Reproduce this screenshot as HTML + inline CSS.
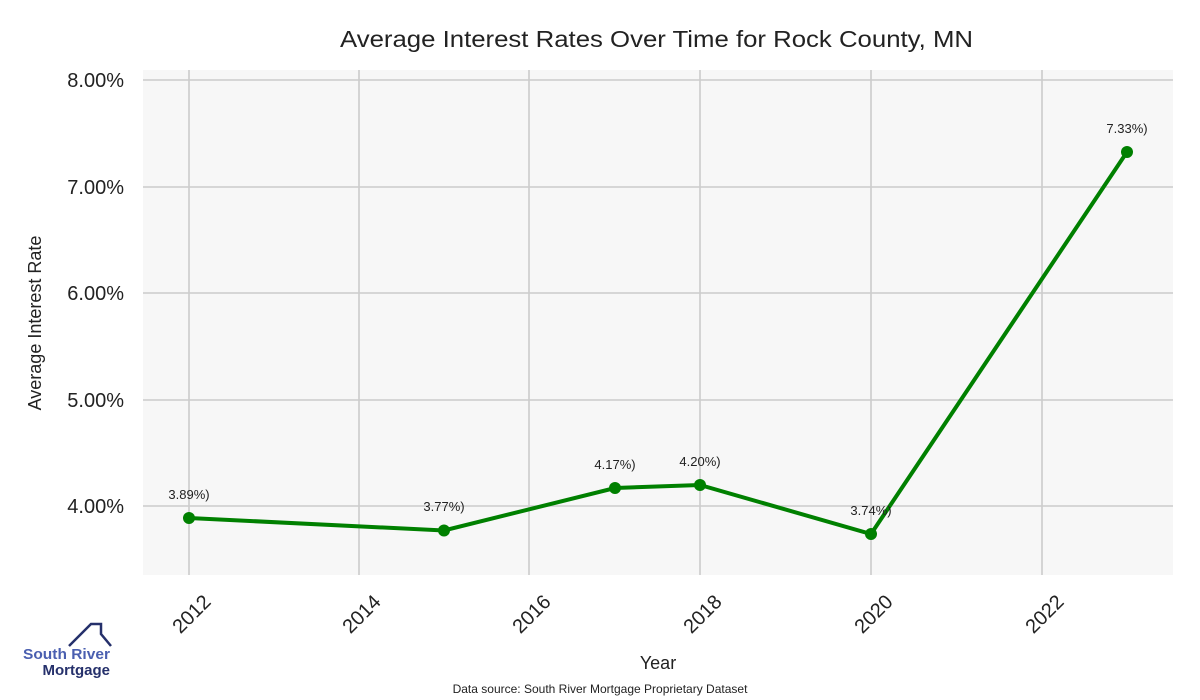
<!DOCTYPE html>
<html><head><meta charset="utf-8"><style>body{margin:0;background:#fff}svg{display:block}text{font-family:"Liberation Sans",sans-serif}</style></head><body>
<svg width="1200" height="700" viewBox="0 0 1200 700">
<rect x="143" y="70" width="1030" height="505" fill="#f7f7f7"/>
<g stroke="#cccccc" stroke-width="1.6">
<line x1="143" x2="1173" y1="80" y2="80"/><line x1="143" x2="1173" y1="187" y2="187"/><line x1="143" x2="1173" y1="293" y2="293"/><line x1="143" x2="1173" y1="400" y2="400"/><line x1="143" x2="1173" y1="506" y2="506"/>
<line x1="189" x2="189" y1="70" y2="575"/><line x1="359" x2="359" y1="70" y2="575"/><line x1="529" x2="529" y1="70" y2="575"/><line x1="700" x2="700" y1="70" y2="575"/><line x1="871" x2="871" y1="70" y2="575"/><line x1="1042" x2="1042" y1="70" y2="575"/>
</g>
<text x="340" y="47" font-size="23" fill="#222" textLength="633" lengthAdjust="spacingAndGlyphs">Average Interest Rates Over Time for Rock County, MN</text>
<g font-size="20" fill="#222" text-anchor="end">
<text x="124" y="87">8.00%</text><text x="124" y="194">7.00%</text><text x="124" y="300">6.00%</text><text x="124" y="407">5.00%</text><text x="124" y="513">4.00%</text></g>
<text transform="translate(41,323) rotate(-90)" font-size="18" fill="#222" text-anchor="middle">Average Interest Rate</text>
<g font-size="20" fill="#222" text-anchor="end">
<text transform="translate(212,603) rotate(-45)">2012</text><text transform="translate(382,603) rotate(-45)">2014</text><text transform="translate(552,603) rotate(-45)">2016</text><text transform="translate(723,603) rotate(-45)">2018</text><text transform="translate(894,603) rotate(-45)">2020</text><text transform="translate(1065,603) rotate(-45)">2022</text></g>
<text x="658" y="669" font-size="18" fill="#222" text-anchor="middle">Year</text>
<text x="600" y="693" font-size="12" fill="#222" text-anchor="middle">Data source: South River Mortgage Proprietary Dataset</text>
<polyline points="189,518 444,530.5 615,488 700,485 871,534 1127,152" fill="none" stroke="#008000" stroke-width="4"/>
<g fill="#008000"><circle cx="189" cy="518" r="6"/><circle cx="444" cy="530.5" r="6"/><circle cx="615" cy="488" r="6"/><circle cx="700" cy="485" r="6"/><circle cx="871" cy="534" r="6"/><circle cx="1127" cy="152" r="6"/></g>
<g font-size="13" fill="#222" text-anchor="middle">
<text x="189" y="499">3.89%)</text><text x="444" y="511">3.77%)</text><text x="615" y="469">4.17%)</text><text x="700" y="466">4.20%)</text><text x="871" y="515">3.74%)</text><text x="1127" y="133">7.33%)</text></g>
<polyline points="69,646 91,624 101,624 101,634 111,646" fill="none" stroke="#25306b" stroke-width="2.5"/>
<text x="23" y="659" font-size="15" font-weight="bold" fill="#4a5fb0" textLength="87" lengthAdjust="spacingAndGlyphs">South River</text>
<text x="110" y="675" font-size="15" font-weight="bold" fill="#25306b" text-anchor="end">Mortgage</text>
</svg>
</body></html>
